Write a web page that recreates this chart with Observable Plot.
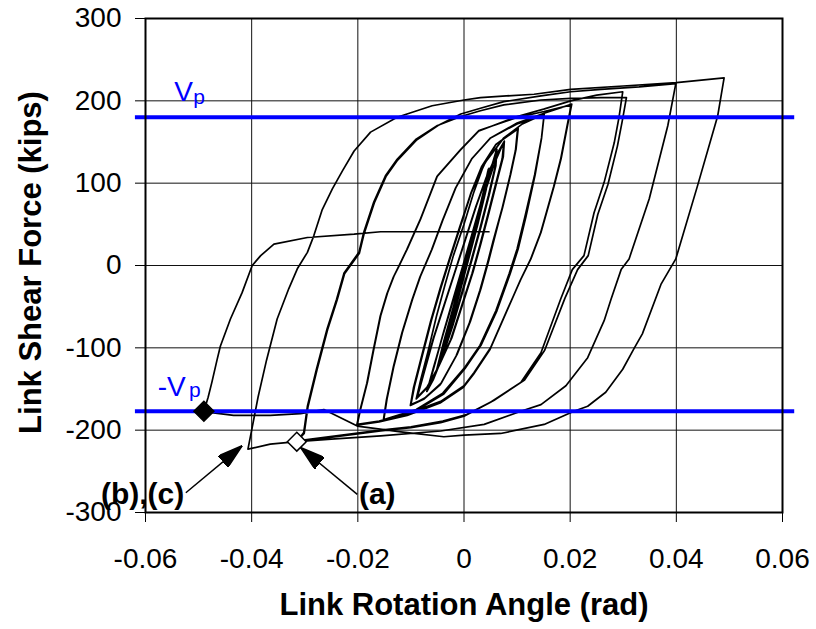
<!DOCTYPE html>
<html>
<head>
<meta charset="utf-8">
<script src="https://cdn.jsdelivr.net/npm/d3@7"></script>
<script src="https://cdn.jsdelivr.net/npm/@observablehq/plot@0.6"></script>
<style>
  body { margin: 0; background: #ffffff; }
</style>
</head>
<body>
<div id="chart"></div>
<script>
// ---- axis ticks ----
const xTicks = [-0.06, -0.04, -0.02, 0, 0.02, 0.04, 0.06];
const yTicks = [-300, -200, -100, 0, 100, 200, 300];

// ---- plastic shear capacity lines (+Vp, -Vp), kips ----
const vpLines = [180, -177];

// ---- hysteresis path: [link rotation (rad), link shear (kips)] ----
const startPath = [[0, 0], [0.0018, 40], [0.0034, 82], [0.0045, 115]];

const cyclesTiny = [
  [0.0040, 90], [0.0024, 48], [0.0006, 5], [-0.0012, -40], [-0.0030, -82], [-0.0050, -125],
  [-0.0036, -90], [-0.0018, -48], [0, -5], [0.0018, 40], [0.0034, 82], [0.0046, 117],
  [0.0041, 92], [0.0025, 50], [0.0007, 6], [-0.0011, -38], [-0.0030, -84], [-0.0051, -127],
  [-0.0037, -92], [-0.0019, -50], [-0.0001, -6], [0.0017, 38], [0.0033, 80], [0.0047, 118],
  [0.0042, 93], [0.0026, 50], [0.0008, 6], [-0.0010, -38], [-0.0029, -83], [-0.0052, -128]
];

const cyclesSmall = [
  [-0.0038, -92], [-0.0020, -50], [-0.0002, -6], [0.0016, 38], [0.0034, 80], [0.0050, 115], [0.0060, 138],
  [0.0058, 118], [0.0046, 85], [0.0030, 45], [0.0013, 5], [-0.0005, -35], [-0.0023, -75], [-0.0042, -112], [-0.0058, -138], [-0.0068, -150],
  [-0.0055, -120], [-0.0038, -80], [-0.0020, -40], [-0.0002, 0], [0.0016, 40], [0.0034, 80], [0.0050, 116], [0.0061, 140],
  [0.0059, 120], [0.0047, 86], [0.0031, 46], [0.0014, 6], [-0.0004, -34], [-0.0022, -74], [-0.0041, -111], [-0.0058, -138], [-0.0069, -152],
  [-0.0056, -122], [-0.0039, -82], [-0.0021, -42], [-0.0003, -2], [0.0015, 38], [0.0033, 79], [0.0050, 116], [0.0062, 141],
  [0.0060, 121], [0.0048, 87], [0.0032, 47], [0.0015, 7], [-0.0003, -33], [-0.0021, -73], [-0.0040, -110], [-0.0058, -139], [-0.0070, -153]
];

const cyclesMedium = [
  [-0.0058, -125], [-0.0040, -85], [-0.0020, -42], [0, 0], [0.0020, 42], [0.0040, 90], [0.0058, 125], [0.0075, 150],
  [0.0072, 130], [0.0060, 100], [0.0045, 62], [0.0030, 25], [0.0015, -10], [-0.0005, -50], [-0.0025, -90], [-0.0050, -125], [-0.0070, -148], [-0.0088, -160],
  [-0.0076, -132], [-0.0057, -88], [-0.0037, -48], [-0.0017, -8], [0.0003, 32], [0.0023, 72], [0.0043, 108], [0.0061, 134], [0.0076, 151],
  [0.0073, 131], [0.0061, 101], [0.0046, 63], [0.0031, 26], [0.0016, -9], [-0.0004, -49], [-0.0024, -89], [-0.0049, -124], [-0.0070, -149], [-0.0089, -161],
  [-0.0077, -133], [-0.0058, -89], [-0.0038, -49], [-0.0018, -9], [0.0002, 31], [0.0022, 71], [0.0042, 107], [0.0060, 133], [0.0076, 151],
  [0.0074, 132], [0.0062, 102], [0.0047, 64], [0.0032, 27], [0.0017, -8], [-0.0003, -48], [-0.0023, -88], [-0.0048, -123], [-0.0070, -149], [-0.0090, -162]
];

const cycles010 = [
  [-0.0082, -140], [-0.0068, -105], [-0.0052, -62], [-0.0036, -24], [-0.0020, 12], [0, 50], [0.0018, 88], [0.0036, 120], [0.0060, 147], [0.0101, 166],
  [0.0097, 140], [0.0087, 110], [0.0072, 70], [0.0055, 30], [0.0045, 5], [0.0030, -30], [0.0010, -70], [-0.0015, -110], [-0.0045, -145], [-0.0075, -162], [-0.0100, -169],
  [-0.0093, -146], [-0.0079, -111], [-0.0061, -66], [-0.0043, -26], [-0.0026, 9], [-0.0006, 49], [0.0014, 89], [0.0034, 121], [0.0060, 147], [0.0102, 166],
  [0.0098, 141], [0.0088, 111], [0.0073, 71], [0.0056, 31], [0.0046, 6], [0.0031, -29], [0.0011, -69], [-0.0014, -109], [-0.0044, -144], [-0.0075, -162], [-0.0101, -170],
  [-0.0094, -147], [-0.0080, -112], [-0.0062, -67], [-0.0044, -27], [-0.0027, 8], [-0.0007, 48], [0.0013, 88], [0.0033, 120], [0.0060, 147], [0.0102, 167],
  [0.0098, 142], [0.0088, 112], [0.0073, 72], [0.0057, 32], [0.0047, 7], [0.0032, -28], [0.0012, -68], [-0.0013, -108], [-0.0043, -143], [-0.0074, -161], [-0.0101, -170]
];

const cycles015 = [
  [-0.0095, -148], [-0.0081, -113], [-0.0063, -68], [-0.0045, -28], [-0.0028, 7], [-0.0008, 47], [0.0012, 86], [0.0040, 125], [0.0075, 155], [0.0110, 172], [0.0151, 184],
  [0.0146, 155], [0.0133, 110], [0.0115, 60], [0.0100, 20], [0.0085, -10], [0.0060, -55], [0.0030, -97], [0, -125], [-0.0040, -155], [-0.0090, -175], [-0.0151, -187],
  [-0.0145, -162], [-0.0132, -122], [-0.0116, -81], [-0.0097, -41], [-0.0082, -13], [-0.0060, 20], [-0.0040, 55], [-0.0015, 95], [0.0015, 130], [0.0050, 155], [0.0100, 172], [0.0151, 183],
  [0.0146, 154], [0.0134, 110], [0.0117, 60], [0.0102, 20], [0.0087, -10], [0.0062, -55], [0.0032, -97], [0.0002, -125], [-0.0038, -156], [-0.0090, -176], [-0.0152, -188],
  [-0.0146, -163], [-0.0133, -123], [-0.0117, -82], [-0.0098, -42], [-0.0083, -14], [-0.0061, 19], [-0.0041, 54], [-0.0016, 94], [0.0014, 129], [0.0050, 155], [0.0100, 173], [0.0151, 185], [0.0203, 196]
];

const cycles020 = [
  [0.0195, 170], [0.0183, 130], [0.0170, 97], [0.0145, 40], [0.0126, 8], [0.0107, -17], [0.0082, -53], [0.0050, -100], [0.0019, -130], [0, -146], [-0.0044, -165], [-0.0107, -180], [-0.0160, -189], [-0.0201, -193],
  [-0.0195, -175], [-0.0182, -142], [-0.0170, -102], [-0.0157, -61], [-0.0144, -33], [-0.0132, -13], [-0.0122, 0], [-0.0107, 20], [-0.0082, 56], [-0.0050, 109], [-0.0006, 141], [0.0028, 164], [0.0101, 180], [0.0151, 187], [0.0202, 195],
  [0.0194, 169], [0.0182, 129], [0.0169, 96], [0.0144, 39], [0.0125, 7], [0.0106, -18], [0.0081, -55], [0.0049, -102], [0.0018, -132], [-0.0001, -148], [-0.0045, -167], [-0.0107, -182], [-0.0160, -190], [-0.0202, -194],
  [-0.0196, -176], [-0.0183, -143], [-0.0171, -103], [-0.0158, -62], [-0.0145, -34], [-0.0133, -14], [-0.0123, -1], [-0.0108, 19], [-0.0083, 55], [-0.0051, 108], [-0.0007, 140], [0.0027, 163], [0.0100, 181], [0.0150, 190], [0.0201, 200], [0.0250, 207], [0.0299, 211]
];

const cycles030 = [
  [0.0292, 180], [0.0283, 149], [0.0264, 101], [0.0245, 64], [0.0226, 12], [0.0204, -5], [0.0182, -41], [0.0145, -106], [0.0107, -142], [0.0050, -166], [0, -183], [-0.0044, -191], [-0.0100, -197], [-0.0157, -201], [-0.0230, -207], [-0.0315, -214],
  [-0.0302, -203], [-0.0295, -171], [-0.0278, -126], [-0.0258, -77], [-0.0240, -41], [-0.0226, -9], [-0.0198, 16], [-0.0189, 40], [-0.0170, 77], [-0.0148, 109], [-0.0126, 129], [-0.0091, 153], [-0.0050, 170], [-0.0006, 181], [0.0031, 188], [0.0075, 195], [0.0145, 201], [0.0201, 203], [0.0258, 204], [0.0306, 204],
  [0.0298, 175], [0.0289, 145], [0.0271, 98], [0.0252, 62], [0.0234, 12], [0.0214, -5], [0.0190, -40], [0.0152, -103], [0.0114, -139], [0.0056, -164], [0.0005, -181], [-0.0040, -189], [-0.0100, -196], [-0.0157, -200], [-0.0230, -206], [-0.0314, -213],
  [-0.0301, -204], [-0.0294, -172], [-0.0277, -127], [-0.0257, -78], [-0.0239, -42], [-0.0225, -10], [-0.0197, 15], [-0.0188, 39], [-0.0169, 76], [-0.0147, 108], [-0.0125, 128], [-0.0090, 152], [-0.0049, 170], [-0.0006, 184], [0.0031, 191], [0.0075, 199], [0.0145, 206], [0.0201, 211], [0.0258, 214], [0.0330, 217], [0.0399, 221]
];

const cycles040 = [
  [0.0384, 170], [0.0349, 81], [0.0311, 8], [0.0296, -5], [0.0277, -41], [0.0264, -67], [0.0233, -112], [0.0192, -146], [0.0145, -169], [0.0107, -177], [0.0038, -193], [-0.0044, -201], [-0.0157, -207], [-0.0250, -211], [-0.0315, -214], [-0.0365, -217], [-0.0407, -223],
  [-0.0400, -200], [-0.0388, -160], [-0.0372, -115], [-0.0352, -65], [-0.0330, -28], [-0.0314, -4], [-0.0295, 16], [-0.0283, 36], [-0.0267, 68], [-0.0248, 93], [-0.0229, 115], [-0.0207, 139], [-0.0176, 162], [-0.0126, 180], [-0.0060, 194], [0, 201], [0.0031, 204], [0.0132, 208], [0.0201, 214], [0.0300, 218], [0.0400, 222], [0.0490, 228]
];

const finalCycle = [
  [0.0478, 182], [0.0440, 97], [0.0399, 8], [0.0371, -23], [0.0336, -83], [0.0321, -100], [0.0299, -126], [0.0267, -154], [0.0233, -171], [0.0207, -177], [0.0151, -193], [0.0069, -204], [0, -206], [-0.0038, -208], [-0.0119, -202], [-0.0201, -195], [-0.0264, -175], [-0.0308, -180], [-0.0365, -182], [-0.0434, -182], [-0.0472, -179], [-0.0490, -177],
  [-0.0482, -160], [-0.0475, -142], [-0.0465, -114], [-0.0459, -98], [-0.0440, -65], [-0.0418, -33], [-0.0399, 0], [-0.0383, 12], [-0.0358, 26], [-0.0295, 34], [-0.0207, 38], [-0.0157, 41], [-0.0050, 41], [0.0047, 41]
];

// ---- events ----
const eventBC = [[-0.0490, -177]];   // filled diamond
const eventA = [[-0.0315, -214]];    // open diamond
const arrowBC = [[-0.0524, -276, -0.0418, -219]];
const arrowA = [[-0.0201, -278, -0.0308, -221]];

// ---- build table ----
const path = [...startPath, ...cyclesTiny, ...cyclesSmall, ...cyclesMedium, ...cycles010,
  ...cycles015, ...cycles020, ...cycles030, ...cycles040, ...finalCycle]
  .map(([rotation, shear]) => ({rotation, shear}));

const toPoint = ([rotation, shear]) => ({rotation, shear});
const toArrow = ([x1, y1, x2, y2]) => ({x1, y1, x2, y2});

function solidHead(color, context) {
  const doc = (context && context.document) || document;
  const ns = "http://www.w3.org/2000/svg";
  const marker = doc.createElementNS(ns, "marker");
  marker.setAttribute("viewBox", "-25 -7.5 25 15");
  marker.setAttribute("markerUnits", "userSpaceOnUse");
  marker.setAttribute("markerWidth", 25);
  marker.setAttribute("markerHeight", 15);
  marker.setAttribute("refX", 0);
  marker.setAttribute("refY", 0);
  marker.setAttribute("orient", "auto");
  const p = doc.createElementNS(ns, "path");
  p.setAttribute("d", "M0,0L-25,-7.5L-25,7.5Z");
  p.setAttribute("fill", color);
  marker.appendChild(p);
  return marker;
}

const blue = "#0000ff";

const chart = Plot.plot({
  width: 816,
  height: 629,
  marginLeft: 145,
  marginRight: 34,
  marginTop: 18,
  marginBottom: 117,
  style: {
    fontFamily: "'Liberation Sans', Arial, sans-serif",
    fontSize: "28px",
    color: "black",
    background: "white",
    overflow: "visible"
  },
  x: {domain: [-0.06, 0.06], ticks: xTicks, tickFormat: d => String(d), tickSize: 10, tickPadding: 26, label: null},
  y: {domain: [-300, 300], ticks: yTicks, tickFormat: d => String(d), tickSize: 10, tickPadding: 14, label: null},
  marks: [
    Plot.ruleX(xTicks, {stroke: "#111", strokeWidth: 1}),
    Plot.ruleY(yTicks, {stroke: "#111", strokeWidth: 1}),
    Plot.line(path, {x: "rotation", y: "shear", stroke: "black", strokeWidth: 1.7, strokeLinejoin: "round"}),
    Plot.ruleY(vpLines, {y: d => d, x1: -0.0619, x2: 0.0623, stroke: blue, strokeWidth: 4}),
    Plot.frame({stroke: "black", strokeWidth: 2}),
    Plot.dot(eventBC.map(toPoint), {x: "rotation", y: "shear", symbol: "diamond2", r: 9, fill: "black", stroke: "black"}),
    Plot.dot(eventA.map(toPoint), {x: "rotation", y: "shear", symbol: "diamond2", r: 8.5, fill: "white", stroke: "black", strokeWidth: 1.5}),
    Plot.link(arrowBC.map(toArrow), {x1: "x1", y1: "y1", x2: "x2", y2: "y2", stroke: "black", strokeWidth: 1.5, markerEnd: solidHead}),
    Plot.link(arrowA.map(toArrow), {x1: "x1", y1: "y1", x2: "x2", y2: "y2", stroke: "black", strokeWidth: 1.5, markerEnd: solidHead}),
    Plot.text(["(b),(c)"], {text: d => d, x: -0.0527, y: -278.4, textAnchor: "end", lineAnchor: "middle", fontWeight: "bold", fontSize: 30, fill: "black"}),
    Plot.text(["(a)"], {text: d => d, x: -0.0198, y: -278.4, textAnchor: "start", lineAnchor: "middle", fontWeight: "bold", fontSize: 30, fill: "black"}),
    Plot.text(["V"], {text: d => d, x: -0.0546, y: 210.6, textAnchor: "start", lineAnchor: "middle", fontSize: 28, fill: blue}),
    Plot.text(["p"], {text: d => d, x: -0.0510, y: 204.2, textAnchor: "start", lineAnchor: "middle", fontSize: 21, fill: blue}),
    Plot.text(["-V"], {text: d => d, x: -0.0577, y: -147.9, textAnchor: "start", lineAnchor: "middle", fontSize: 28, fill: blue}),
    Plot.text(["p"], {text: d => d, x: -0.0518, y: -151.9, textAnchor: "start", lineAnchor: "middle", fontSize: 21, fill: blue}),
    Plot.text(["Link Rotation Angle (rad)"], {text: d => d, frameAnchor: "bottom", textAnchor: "middle", lineAnchor: "middle", dy: 93, fontWeight: "bold", fontSize: 31, fill: "black"}),
    Plot.text(["Link Shear Force (kips)"], {text: d => d, frameAnchor: "left", textAnchor: "middle", lineAnchor: "middle", rotate: -90, dx: -114, dy: -3, fontWeight: "bold", fontSize: 31, fill: "black"})
  ]
});

document.getElementById("chart").append(chart);
</script>
</body>
</html>
